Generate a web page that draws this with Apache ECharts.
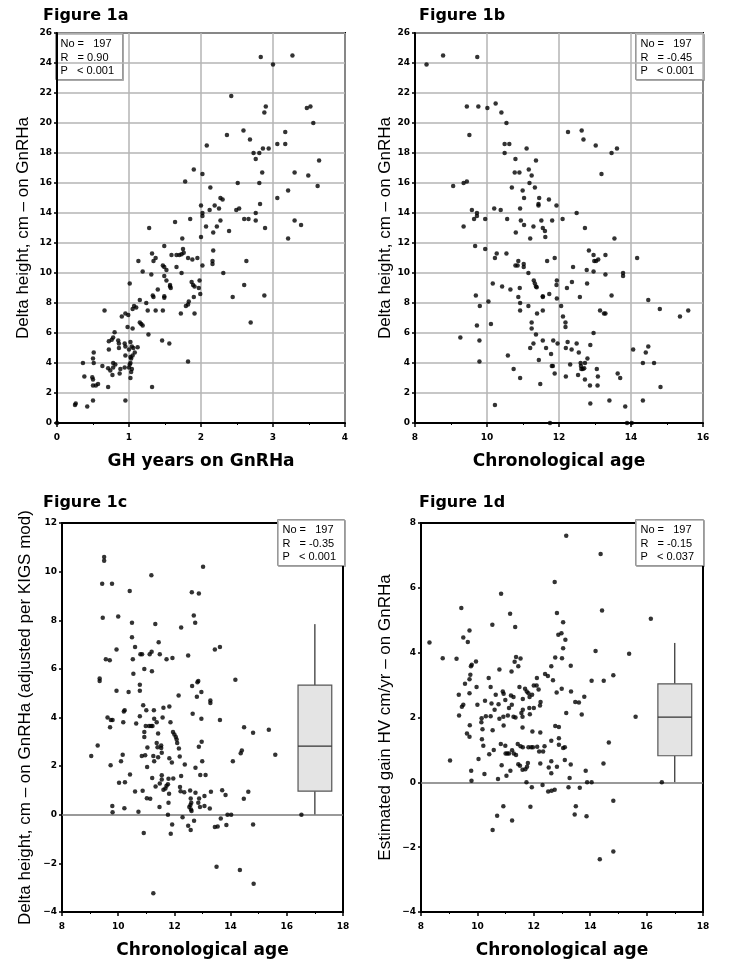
<!DOCTYPE html>
<html>
<head>
<meta charset="utf-8">
<script src="https://cdn.jsdelivr.net/npm/echarts@6/dist/echarts.min.js"></script>
<style>
  html, body { margin: 0; padding: 0; background: #fff; }
  #main { width: 732px; height: 962px; }
</style>
</head>
<body>
<div id="main"></div>
<script>
// Figure 1a: GH years on GnRHa vs delta height
var fig1a = [[1.28,13.0],[1.49,11.8],[1.64,13.4],[1.74,12.3],[1.75,11.6],[1.78,16.1],[1.85,13.6],[1.90,16.9],[2.00,14.5],[2.02,16.6],[2.00,12.4],[2.02,14.0],[2.02,13.8],[2.08,18.5],[2.07,13.1],[2.12,14.2],[2.13,15.7],[2.17,12.7],[2.19,14.5],[2.22,13.1],[2.25,14.3],[2.27,13.5],[2.27,15.0],[2.30,14.9],[2.36,19.2],[2.39,12.8],[2.42,21.8],[2.49,14.2],[2.53,14.3],[2.51,16.0],[2.59,19.5],[2.60,13.6],[2.66,13.6],[2.68,18.9],[2.73,18.0],[2.76,17.6],[2.76,14.0],[2.76,13.5],[2.81,18.0],[2.81,16.0],[2.82,14.6],[2.83,24.4],[2.85,16.7],[2.86,18.3],[2.88,20.7],[2.90,21.1],[2.89,13.0],[2.94,18.3],[3.00,23.9],[3.06,18.6],[3.06,15.0],[3.17,19.4],[3.17,18.6],[3.21,15.5],[3.21,12.3],[3.27,24.5],[3.30,16.7],[3.30,13.5],[3.39,13.2],[3.47,21.0],[3.52,21.1],[3.49,16.5],[3.56,20.0],[3.62,15.8],[3.64,17.5],[2.17,11.5],
  [1.13,10.8],[1.32,11.3],[1.34,10.8],[1.37,11.0],[1.59,11.2],[1.66,11.2],[1.70,11.2],[1.73,11.25],[1.76,11.35],[1.82,11.0],[1.88,10.9],[1.95,11.0],[2.02,10.5],[2.16,10.8],[2.16,10.6],[2.31,10.0],[2.63,10.8],[1.19,10.1],[1.31,9.9],[1.47,10.5],[1.49,10.4],[1.52,10.2],[1.49,9.8],[1.52,9.5],[1.66,10.4],[1.73,10.0],[1.01,9.3],[1.57,9.2],[1.57,9.1],[1.58,9.0],[1.87,9.4],[1.89,9.2],[1.91,9.1],[1.98,9.5],[1.97,9.0],[1.99,8.6],[1.40,8.9],[1.33,8.5],[1.34,8.4],[1.49,8.45],[1.49,8.35],[1.90,8.4],[2.44,8.4],[2.60,9.2],[2.88,8.5],[1.15,8.2],[1.24,8.0],[1.26,7.5],[1.37,7.5],[1.47,7.5],[1.83,8.1],[1.82,7.9],[1.79,7.8],[1.72,7.3],[1.91,7.3],[1.07,7.8],[1.05,7.6],[1.10,7.7],[0.95,7.3],[0.99,7.2],[0.90,7.1],[0.66,7.5],[1.15,6.7],[1.17,6.6],[1.19,6.5],[1.27,5.9],[0.98,6.4],[1.05,6.3],[0.80,6.05],[0.78,5.7],[0.76,5.55],[0.72,5.45],[0.85,5.5],[0.86,5.3],[0.86,5.0],[0.94,5.3],[0.95,5.1],[1.02,5.4],[1.04,5.1],[1.06,5.0],[1.00,4.9],[1.08,4.7],[1.12,5.05],[1.05,4.5],[1.02,4.4],[1.03,4.3],[1.02,4.0],[1.01,3.9],[1.00,3.7],[1.04,3.6],[1.03,3.4],[1.02,3.0],[0.95,4.5],[0.72,4.9],[0.51,4.7],[0.50,4.3],[0.51,4.0],[0.36,4.0],[0.63,3.8],[0.78,4.0],[0.81,3.9],[0.78,3.7],[0.71,3.65],[0.74,3.5],[0.77,3.2],[0.88,3.6],[0.94,3.7],[0.87,3.3],[0.38,3.1],[0.49,3.05],[0.50,2.9],[0.50,2.5],[0.54,2.5],[0.57,2.6],[0.71,2.4],[1.32,2.4],[1.46,5.5],[1.56,5.3],[1.82,4.1],[2.69,6.7],[0.26,1.3],[0.25,1.2],[0.42,1.1],[0.50,1.5],[0.95,1.5],[0,0]];

// Figure 1b: chronological age vs delta height
var fig1b = [[8.32,23.9],[8.78,24.5],[9.73,24.4],[9.44,21.1],[9.76,21.1],[10.01,21.0],[10.24,21.3],[10.40,20.7],[10.54,20.0],[9.51,19.2],[10.49,18.6],[10.62,18.6],[10.49,18.0],[10.79,17.6],[11.10,18.3],[11.36,17.5],[10.77,16.7],[10.90,16.7],[11.16,16.9],[11.24,16.5],[11.18,16.0],[11.33,15.7],[10.69,15.7],[10.99,15.5],[11.03,15.0],[11.45,15.0],[11.72,14.9],[11.43,14.6],[11.43,14.5],[11.93,14.5],[9.06,15.8],[9.35,16.0],[9.44,16.1],[9.58,14.2],[9.72,14.0],[9.72,13.8],[9.64,13.6],[9.95,13.6],[10.20,14.3],[10.38,14.2],[10.56,13.6],[10.92,14.3],[10.94,13.5],[11.03,13.2],[10.80,12.7],[11.29,13.1],[11.51,13.5],[11.55,13.0],[11.61,12.8],[11.62,12.4],[11.20,12.3],[11.81,13.5],[12.10,13.6],[9.35,13.1],[12.25,19.4],[12.63,19.5],[12.68,18.9],[13.02,18.5],[13.46,18.0],[13.61,18.3],[13.18,16.6],[12.49,14.0],[12.72,13.0],[13.54,12.3],[9.67,11.8],[9.95,11.6],
  [10.22,11.0],[10.27,11.3],[10.54,11.3],[10.79,10.5],[10.85,10.5],[10.87,10.8],[11.02,10.6],[11.02,10.4],[11.15,10.0],[11.67,10.8],[11.88,11.0],[11.94,9.5],[11.93,9.2],[11.30,9.5],[11.33,9.3],[11.36,9.1],[11.38,9.05],[11.55,8.45],[11.55,8.4],[11.73,8.6],[11.94,8.3],[10.91,9.0],[10.65,8.9],[10.42,9.1],[10.16,9.3],[10.87,8.4],[10.92,8.0],[10.92,7.5],[11.15,7.8],[11.55,7.5],[11.39,7.3],[11.24,6.7],[11.24,6.3],[11.36,5.9],[9.69,8.5],[9.80,7.8],[10.04,8.1],[9.72,6.5],[10.11,6.6],[9.26,5.7],[9.79,5.5],[9.79,4.1],[10.58,4.5],[10.74,3.6],[10.92,3.0],[10.22,1.2],[11.20,5.0],[11.29,5.3],[11.55,5.5],[11.64,5.0],[11.44,4.2],[11.48,2.6],[11.75,0],[11.78,4.6],[11.80,3.8],[11.83,3.8],[11.84,5.5],[11.88,3.3],[11.96,5.3],[12.06,7.8],[12.11,7.1],[12.18,6.7],[12.18,6.4],[12.19,5.0],[12.24,5.4],[12.19,3.1],[12.31,3.9],[12.22,9.0],[12.36,9.4],[12.39,10.4],[12.35,4.9],[12.49,5.3],[12.55,4.7],[12.53,3.2],[12.58,8.4],[12.60,4.0],[12.61,3.8],[12.62,3.6],[12.66,3.6],[12.70,3.65],[12.72,4.0],[12.72,2.9],[12.79,4.3],[12.77,10.2],[12.78,9.3],[12.83,11.5],[12.87,5.2],[12.86,2.5],[12.87,1.3],[12.96,11.2],[12.98,10.8],[13.03,10.8],[13.09,10.9],[12.96,10.1],[12.96,6.0],[13.05,3.6],[13.08,3.1],[13.07,2.5],[13.14,7.5],[13.25,7.3],[13.29,7.3],[13.29,11.2],[13.29,9.9],[13.46,8.5],[13.40,1.5],[13.63,3.3],[13.70,3.0],[13.78,10.0],[13.78,9.8],[13.84,1.1],[13.89,0],[14.02,0],[14.06,4.9],[14.17,11.0],[14.33,4.0],[14.33,1.5],[14.41,4.7],[14.48,5.1],[14.48,8.2],[14.64,4.0],[14.80,7.6],[14.82,2.4],[15.36,7.1],[15.59,7.5]];

// Figure 1c: chronological age vs adjusted delta height
var fig1c = [[9.50,10.6],[9.50,10.45],[9.43,9.5],[9.78,9.5],[10.41,9.2],[11.18,9.85],[9.45,8.1],[10.00,8.15],[10.49,7.9],[11.32,7.85],[12.24,7.7],[12.62,9.15],[12.87,9.1],[13.02,10.2],[12.69,8.2],[12.74,7.9],[10.49,7.3],[10.60,6.9],[11.44,7.1],[13.44,6.8],[13.62,6.9],[9.94,6.8],[9.56,6.4],[9.70,6.35],[10.52,6.4],[10.79,6.6],[10.85,6.6],[11.12,6.6],[11.19,6.7],[11.48,6.6],[11.72,6.4],[11.93,6.45],[12.49,6.55],[10.93,6.0],[10.54,5.8],[11.20,5.9],[9.34,5.6],[9.34,5.5],[9.94,5.1],[10.37,5.05],[10.77,5.35],[10.77,5.1],[12.15,4.9],[12.63,5.3],[12.82,5.45],[12.85,5.5],[12.96,5.05],[12.80,4.85],[13.28,4.7],[13.28,4.6],[14.17,5.55],[10.20,4.25],[10.23,4.3],[10.89,4.5],[11.00,4.3],[11.27,4.3],[10.77,4.05],[11.61,4.4],[11.82,4.45],[11.58,4.0],[11.28,3.95],[12.65,4.15],[12.96,3.95],[13.62,3.9],[9.62,4.0],[9.74,3.9],[9.80,3.9],[10.18,3.8],[10.64,3.75],[10.98,3.65],[11.10,3.65],[11.17,3.65],[11.22,3.65],[11.37,3.8],[9.71,3.6],[11.86,3.8],[14.48,3.6],[15.36,3.5],[14.80,3.37],
  [9.27,2.85],[9.04,2.42],[9.73,2.04],[10.10,2.2],[10.16,2.47],[10.42,1.66],[10.03,1.32],[10.24,1.34],[10.60,0.96],[10.87,0.99],[10.93,3.4],[10.93,3.2],[11.04,2.77],[11.03,1.96],[10.84,2.42],[10.96,2.45],[11.02,0.68],[11.14,0.66],[11.25,2.42],[11.28,2.2],[11.37,2.95],[11.40,2.78],[11.42,3.34],[11.53,2.85],[11.53,2.75],[11.55,2.55],[11.42,2.37],[11.21,1.51],[11.33,1.16],[11.48,1.29],[11.55,1.62],[11.55,1.45],[11.68,1.08],[11.72,1.19],[11.77,1.25],[11.61,1.03],[11.79,1.48],[11.96,1.49],[11.81,0.86],[11.47,0.32],[11.79,0.49],[11.77,0],[11.92,-0.4],[11.87,-0.78],[11.82,2.32],[11.91,2.15],[11.95,3.4],[12.00,3.3],[12.05,3.2],[12.08,3.1],[12.10,2.95],[12.16,2.73],[12.19,2.4],[12.24,1.59],[12.20,1.14],[12.22,0.97],[12.35,0.93],[12.29,-0.1],[12.37,2.07],[12.49,-0.45],[12.53,0.32],[12.57,0.4],[12.60,0.49],[12.58,0.67],[12.56,1.0],[12.59,0.22],[12.61,0.15],[12.58,-0.63],[12.70,-0.25],[12.75,1.93],[12.75,0.9],[12.85,0.49],[12.88,0.67],[12.87,2.8],[12.97,3.0],[12.92,1.64],[12.91,0.32],[12.99,2.2],[13.11,1.64],[13.07,0.77],[13.07,0.36],[13.26,0.26],[13.30,0.95],[13.44,-0.5],[13.54,-0.48],[13.50,-2.14],[13.65,-0.15],[13.70,1.01],[13.82,0.81],[13.85,-0.42],[13.89,0],[14.02,0],[14.08,2.2],[14.33,-2.27],[14.36,2.53],[14.40,2.64],[14.47,0.66],[14.63,0.95],[14.80,-0.4],[14.82,-2.84],[15.59,2.47],[11.25,-3.23],[10.91,-0.75],[10.72,0.12],[9.79,0.36],[9.80,0.1],[10.22,0.27],[16.52,0]];

// Figure 1d: chronological age vs estimated gain in HV
var fig1d = [[8.30,4.31],[8.77,3.83],[9.26,3.81],[9.43,5.38],[9.50,4.47],[9.66,4.33],[9.72,4.68],[9.80,3.63],[9.77,3.58],[9.95,3.73],[9.75,3.32],[9.72,3.18],[9.56,3.04],[9.97,2.94],[9.34,2.70],[9.50,2.39],[9.45,2.33],[9.72,2.75],[9.35,2.06],[10.40,3.22],[10.47,2.94],[10.53,4.86],[10.78,3.48],[10.84,5.82],[11.16,5.2],[11.21,3.42],[11.32,3.72],[11.37,3.87],[11.45,3.58],[11.53,3.82],[11.34,4.79],[11.49,2.94],[10.65,2.70],[10.90,2.8],[10.93,2.73],[11.19,2.68],[11.28,2.63],[10.99,2.54],[10.27,2.52],[10.00,2.39],[10.50,2.43],[10.75,2.41],[10.61,2.24],[11.12,2.29],[11.22,2.39],[11.69,2.89],[11.75,2.8],[11.81,2.75],[12.00,2.99],[12.10,2.99],[12.11,3.22],[12.17,2.86],[11.94,2.70],[11.85,2.63],[11.61,2.57],[11.84,2.29],[11.61,2.24],[12.24,2.48],[12.22,2.37],[12.00,2.29],[12.40,3.34],[12.50,3.28],[12.62,3.58],[12.68,3.15],[12.76,3.85],[13.00,3.83],[12.74,6.18],[12.82,5.22],[12.87,4.55],[12.98,4.6],[13.04,4.94],[13.12,4.4],[13.04,4.14],[13.15,7.61],[13.31,3.6],[12.81,2.77],[12.99,2.89],[13.32,2.8],[13.47,2.48],[13.60,2.46],[13.79,2.64],[13.70,2.09],[13.15,2.14],[14.05,3.13],[14.19,4.05],[14.48,3.13],[14.82,3.3],[14.37,7.04],[14.42,5.30],[15.38,3.97],[16.15,5.05],[15.61,2.02],[10.15,1.98],[10.30,2.04],[10.47,2.04],[10.78,1.96],[10.92,2.02],[11.08,2.06],[11.28,2.02],[11.35,2.0],[11.56,2.14],[11.60,2.02],[11.86,2.1],[9.73,1.76],
  [9.63,1.51],[9.72,1.41],[10.14,1.85],[10.18,1.64],[10.54,1.61],[10.93,1.75],[11.60,1.69],[11.95,1.57],[12.23,1.54],[12.76,1.74],[12.89,1.71],[12.62,1.28],[12.89,1.36],[12.89,1.16],[13.04,1.06],[13.10,1.08],[14.66,1.23],[10.16,1.33],[10.21,1.13],[10.42,0.87],[10.58,1.0],[10.83,1.18],[10.99,1.13],[11.00,0.89],[11.06,0.89],[11.12,0.89],[11.29,0.89],[11.37,0.84],[11.23,0.99],[11.43,1.18],[11.53,1.11],[11.61,1.08],[11.81,1.08],[11.91,1.08],[11.97,1.08],[12.12,1.1],[12.19,0.95],[12.33,0.95],[12.38,1.11],[12.62,0.65],[12.53,0.46],[12.23,0.58],[11.79,0.6],[11.76,0.48],[11.70,0.4],[11.60,0.39],[11.45,0.56],[11.51,0.51],[11.17,0.36],[10.86,0.53],[11.03,0.2],[10.73,0.1],[10.25,0.26],[9.78,0.36],[9.79,0.05],[10.04,0.72],[9.03,0.67],[12.62,0.28],[12.82,0.48],[13.10,0.69],[13.31,0.55],[13.27,0.13],[13.84,0.36],[13.89,0],[14.05,0],[14.47,0.58],[11.74,0],[11.93,-0.15],[12.31,-0.08],[12.51,-0.28],[12.63,-0.26],[12.74,-0.23],[13.23,-0.15],[13.63,-0.17],[10.92,-0.74],[11.88,-0.75],[13.49,-0.74],[13.45,-0.99],[13.87,-1.05],[14.82,-0.57],[10.70,-1.03],[11.23,-1.18],[10.54,-1.47],[14.34,-2.37],[14.82,-2.13],[16.54,0]];

// box plots: [x, min, q1, median, q3, max]
var box1c = [[17, 0, 0.97, 2.82, 5.33, 7.84]];
var box1d = [[17, 0, 0.82, 2.01, 3.04, 4.30]];

var titles = ['Figure 1a', 'Figure 1b', 'Figure 1c', 'Figure 1d'];
var stats1a = ['No =   197', 'R   = 0.90', 'P   < 0.001'];
var stats1b = ['No =   197', 'R   = -0.45', 'P   < 0.001'];
var stats1c = ['No =   197', 'R   = -0.35', 'P   < 0.001'];
var stats1d = ['No =   197', 'R   = -0.15', 'P   < 0.037'];

var FONT = 'Liberation Sans, Arial, sans-serif';
var BOLD = 'DejaVu Sans, sans-serif';
var myChart = echarts.init(document.getElementById('main'));

function tickLabel(margin) {
    return {
        fontSize: 9, fontWeight: 'bold', color: '#000', fontFamily: BOLD, margin: margin,
        formatter: function(v) { return String(v).replace('-', '\u2212'); }
    };
}

function xAxis(idx, min, max, interval, name, grid) {
    return {
        type: 'value', gridIndex: idx, min: min, max: max, interval: interval,
        name: name, nameLocation: 'middle', nameGap: 30,
        nameTextStyle: { fontSize: 17, fontWeight: 'bold', color: '#000', fontFamily: BOLD },
        axisLine: { onZero: false, lineStyle: { color: '#000', width: 2 } },
        axisTick: { show: true, length: 4, lineStyle: { color: '#000', width: 1.5 } },
        minorTick: { show: true, splitNumber: 2, length: 2, lineStyle: { color: '#000' } },
        axisLabel: tickLabel(10),
        splitLine: { show: grid, lineStyle: { color: '#b4b4b4', width: 1.5 } }
    };
}

function yAxis(idx, min, max, name, gap, grid) {
    return {
        type: 'value', gridIndex: idx, min: min, max: max, interval: 2,
        name: name, nameLocation: 'middle', nameGap: gap, nameRotate: 90,
        nameTextStyle: { fontSize: 17, color: '#000', fontFamily: FONT },
        axisLine: { onZero: false, lineStyle: { color: '#000', width: 2 } },
        axisTick: { show: true, length: 3, lineStyle: { color: '#000', width: 1.5 } },
        axisLabel: tickLabel(5),
        splitLine: { show: grid, lineStyle: { color: '#b4b4b4', width: 1.5 } }
    };
}

function scatter(idx, data, zeroLine) {
    var s = {
        type: 'scatter', xAxisIndex: idx, yAxisIndex: idx, data: data,
        symbolSize: 4.5, itemStyle: { color: '#000' }, silent: true, z: 5
    };
    if (zeroLine) {
        s.markLine = {
            silent: true, symbol: 'none', label: { show: false },
            lineStyle: { color: '#777', width: 1.5, type: 'solid' },
            data: [{ yAxis: 0 }]
        };
    }
    return s;
}

function boxSeries(idx, data) {
    return {
        type: 'custom', xAxisIndex: idx, yAxisIndex: idx, data: data, silent: true, z: 4,
        encode: { x: 0, y: [1, 2, 3, 4, 5] },
        renderItem: function(params, api) {
            var x = api.value(0);
            var half = api.size([1.2, 0])[0] / 2;
            var pMin = api.coord([x, api.value(1)]);
            var pQ1 = api.coord([x, api.value(2)]);
            var pMed = api.coord([x, api.value(3)]);
            var pQ3 = api.coord([x, api.value(4)]);
            var pMax = api.coord([x, api.value(5)]);
            var line = { stroke: '#000', lineWidth: 1 };
            return {
                type: 'group',
                children: [
                    { type: 'line', shape: { x1: pMax[0], y1: pMax[1], x2: pQ3[0], y2: pQ3[1] }, style: line },
                    { type: 'line', shape: { x1: pQ1[0], y1: pQ1[1], x2: pMin[0], y2: pMin[1] }, style: line },
                    { type: 'rect', shape: { x: pQ3[0] - half, y: pQ3[1], width: half * 2, height: pQ1[1] - pQ3[1] },
                      style: { fill: '#e4e4e4', stroke: '#555', lineWidth: 1.2 } },
                    { type: 'line', shape: { x1: pMed[0] - half, y1: pMed[1], x2: pMed[0] + half, y2: pMed[1] }, style: { stroke: '#333', lineWidth: 1.2 } }
                ]
            };
        }
    };
}

function statBox(x, y, w, lines) {
    return {
        type: 'group', left: x, top: y, z: 20,
        children: [
            { type: 'rect', shape: { x: 0, y: 0, width: w, height: 46 },
              style: { fill: '#fff', stroke: '#999', lineWidth: 1, shadowColor: 'rgba(0,0,0,0.25)', shadowOffsetX: 1, shadowOffsetY: 1 } },
            { type: 'text', x: 5, y: 4,
              style: { text: lines.join('\n'), fontSize: 11, lineHeight: 13.5, fill: '#000', fontFamily: FONT } }
        ]
    };
}

var option = {
    backgroundColor: '#fff',
    animation: false,
    title: [
        { text: titles[0], left: 43, top: 8 },
        { text: titles[1], left: 419, top: 8 },
        { text: titles[2], left: 43, top: 495 },
        { text: titles[3], left: 419, top: 495 }
    ].map(function(t) {
        t.padding = 0;
        t.textStyle = { fontSize: 16, fontWeight: 'bold', color: '#000', fontFamily: BOLD };
        return t;
    }),
    grid: [
        { left: 57, top: 33, width: 288, height: 390 },
        { left: 415, top: 33, width: 288, height: 390 },
        { left: 62, top: 523, width: 281, height: 389 },
        { left: 421, top: 523, width: 282, height: 389 }
    ].map(function(g) {
        g.show = true; g.borderColor = '#000'; g.borderWidth = 2; g.backgroundColor = 'transparent';
        return g;
    }),
    xAxis: [
        xAxis(0, 0, 4, 1, 'GH years on GnRHa', true),
        xAxis(1, 8, 16, 2, 'Chronological age', true),
        xAxis(2, 8, 18, 2, 'Chronological age', false),
        xAxis(3, 8, 18, 2, 'Chronological age', false)
    ],
    yAxis: [
        yAxis(0, 0, 26, 'Delta height, cm \u2013 on GnRHa', 25, true),
        yAxis(1, 0, 26, 'Delta height, cm \u2013 on GnRHa', 19, true),
        yAxis(2, -4, 12, 'Delta height, cm \u2013 on GnRHa (adjusted per KIGS mod)', 28, false),
        yAxis(3, -4, 8, 'Estimated gain HV cm/yr \u2013 on GnRHa', 27, false)
    ],
    series: [
        scatter(0, fig1a, false),
        scatter(1, fig1b, false),
        scatter(2, fig1c, true),
        scatter(3, fig1d, true),
        boxSeries(2, box1c),
        boxSeries(3, box1d)
    ],
    graphic: [
        statBox(55, 33, 67, stats1a),
        statBox(635, 33, 68, stats1b),
        statBox(277, 519, 67, stats1c),
        statBox(635, 519, 68, stats1d)
    ]
};

myChart.setOption(option);
</script>
</body>
</html>
